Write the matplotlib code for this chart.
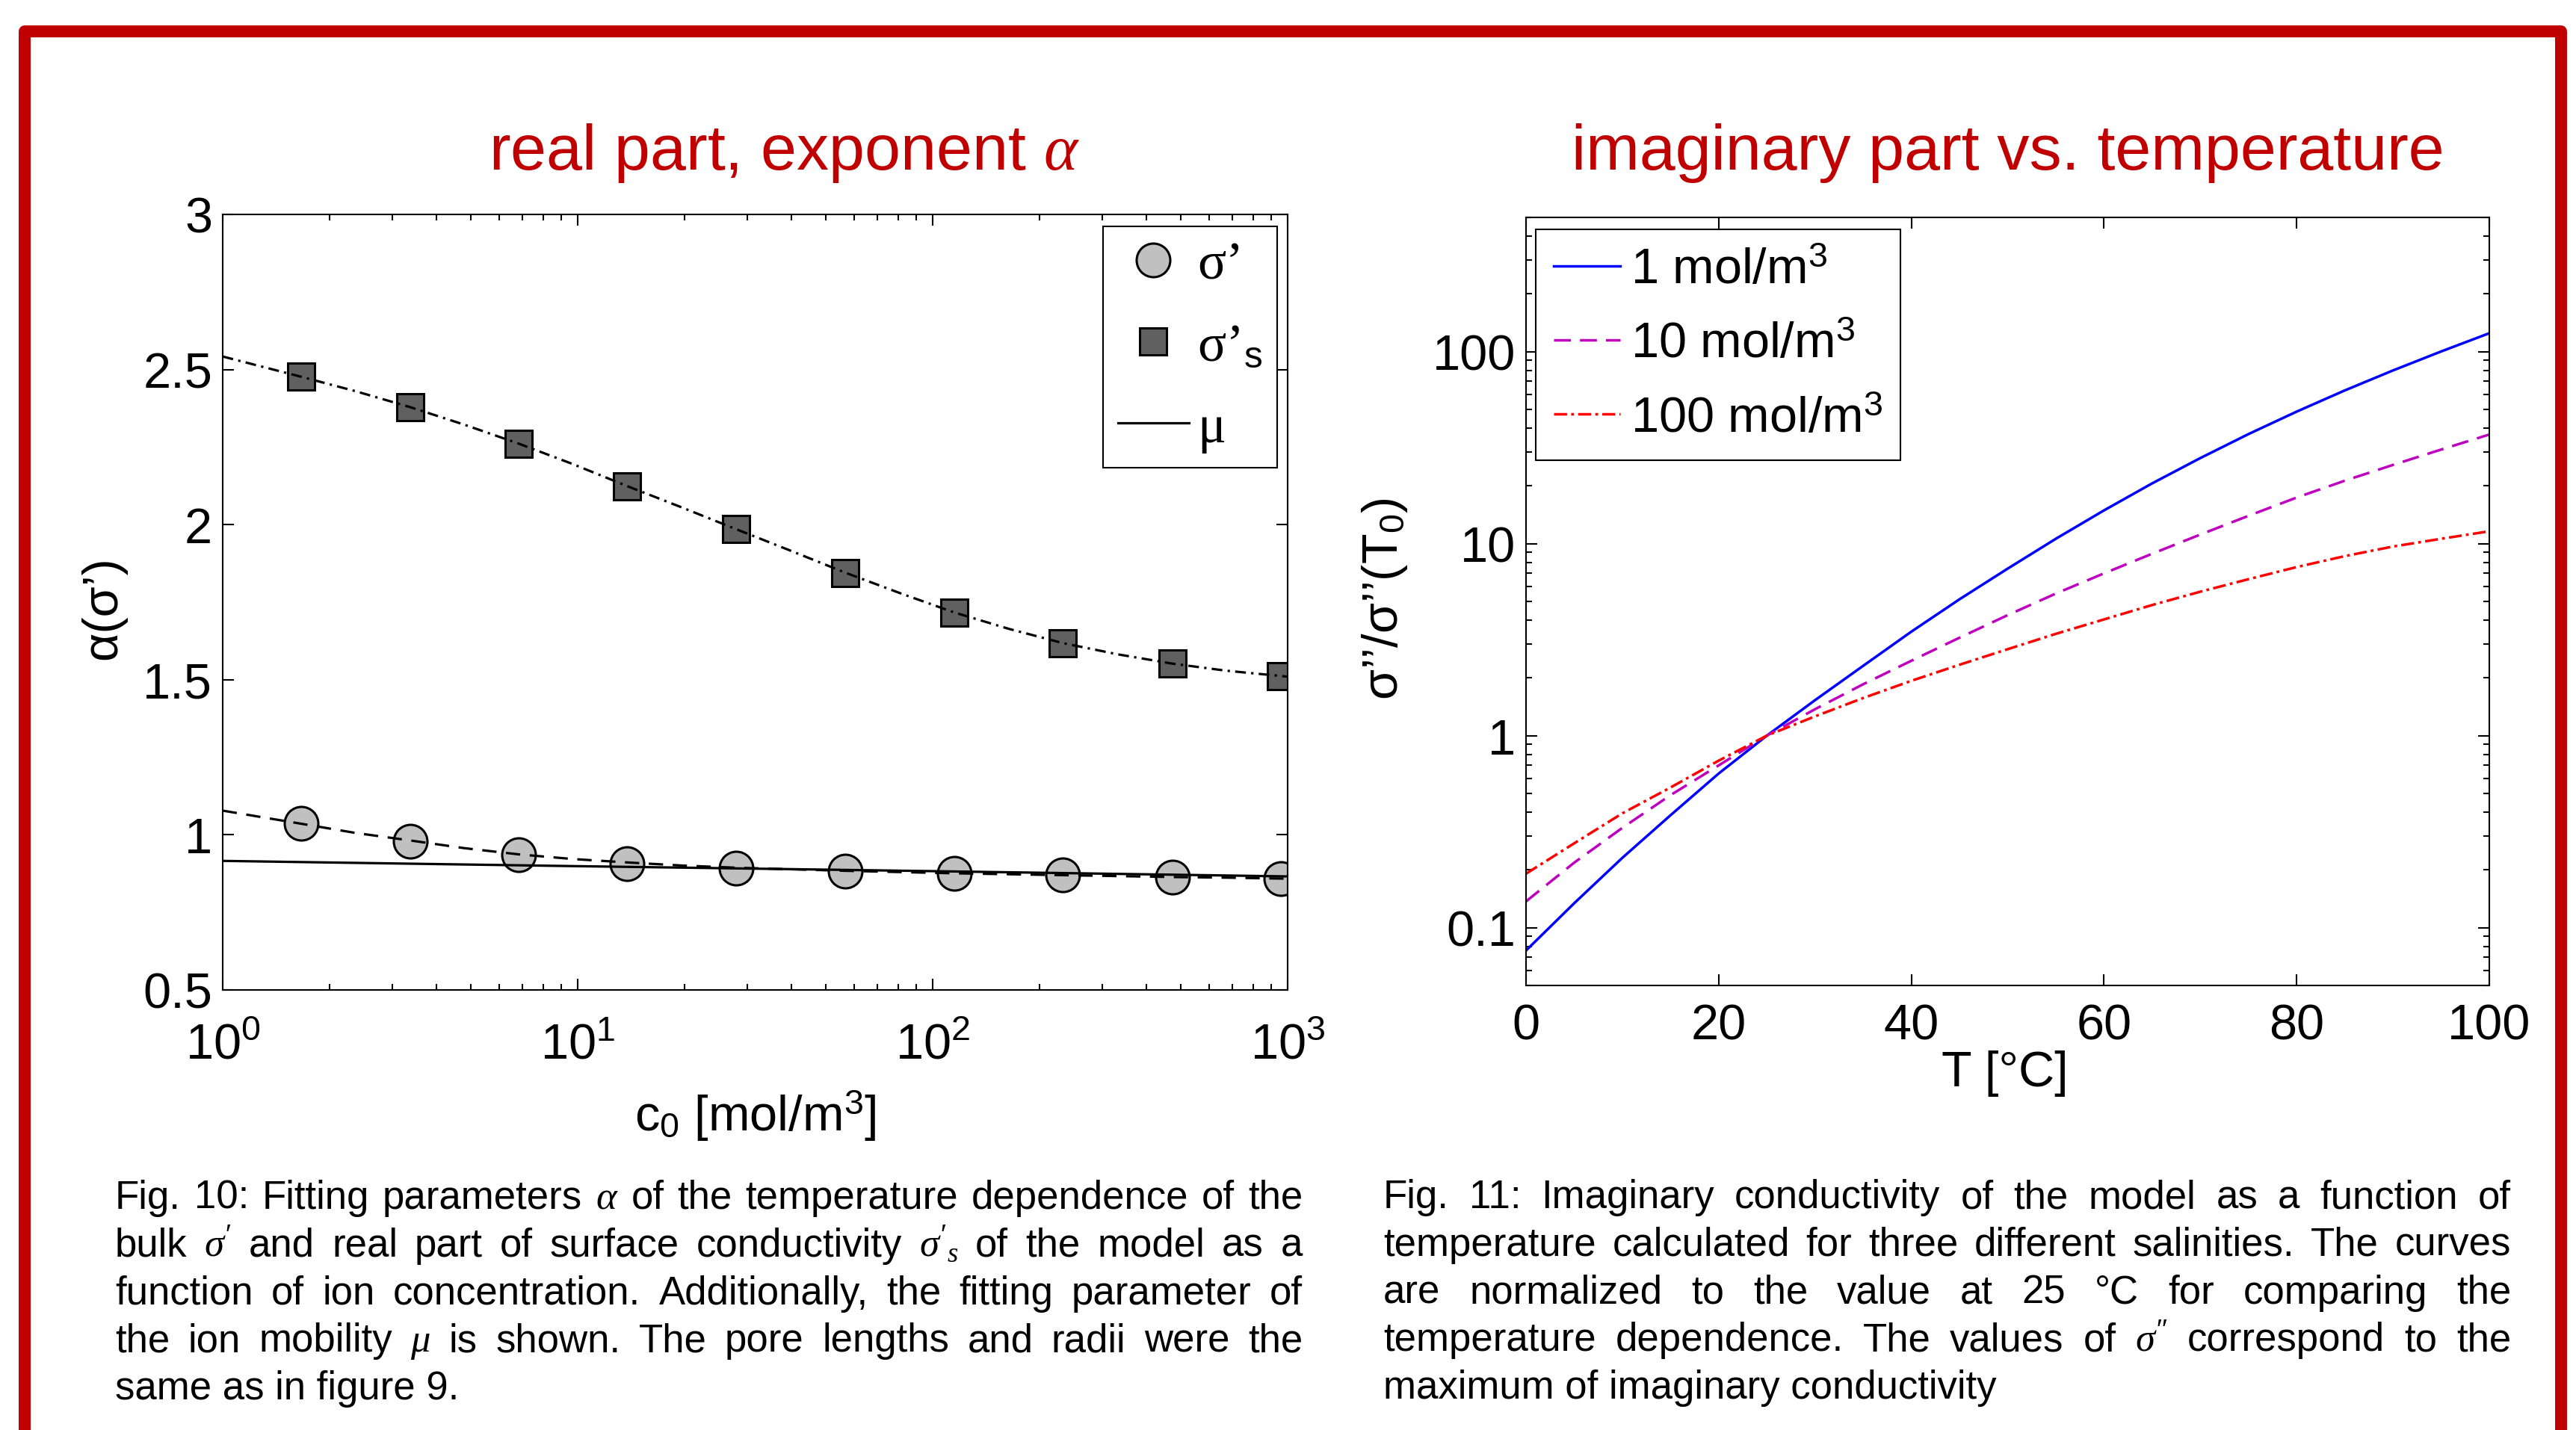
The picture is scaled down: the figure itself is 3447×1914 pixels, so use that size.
import numpy as np
import matplotlib
matplotlib.use("Agg")
import matplotlib.pyplot as plt
from matplotlib.lines import Line2D
from matplotlib.ticker import FixedLocator, LogLocator, MultipleLocator, FormatStrFormatter, NullFormatter

plt.rcParams["font.family"] = ["Liberation Sans", "DejaVu Sans"]
plt.rcParams["mathtext.fontset"] = "custom"
plt.rcParams["mathtext.rm"] = "Liberation Sans"
plt.rcParams["mathtext.it"] = "Liberation Serif:italic"
plt.rcParams["mathtext.bf"] = "Liberation Sans:bold"

W, H, DPI = 3447, 1915, 100
RED = "#C00000"

# --- Fig. 10: exponent alpha vs. ion concentration ---
c0 = [1.66, 3.37, 6.83, 13.8, 28.0, 56.8, 115, 233, 473, 958]
alpha_bulk = [1.036, 0.980, 0.935, 0.907, 0.892, 0.882, 0.875, 0.870, 0.864, 0.860]
alpha_surf = [2.477, 2.379, 2.261, 2.124, 1.985, 1.845, 1.717, 1.618, 1.552, 1.512]

c_fit = [1.0, 1.66, 2.37, 3.37, 4.8, 6.83, 9.7, 13.8, 19.7, 28.0, 40, 56.8,
         81, 115, 164, 233, 332, 473, 673, 958, 1000]
surf_fit = [2.542, 2.477, 2.430, 2.379, 2.322, 2.261, 2.195, 2.124, 2.055, 1.985, 1.915,
            1.845, 1.779, 1.717, 1.664, 1.618, 1.582, 1.552, 1.529, 1.512, 1.510]
bulk_fit = [1.078, 1.036, 1.006, 0.982, 0.957, 0.937, 0.922, 0.911, 0.901, 0.894, 0.889,
            0.884, 0.880, 0.876, 0.873, 0.870, 0.867, 0.864, 0.862, 0.859, 0.859]
mu_c = [1, 10, 100, 1000]
mu_fit = [0.916, 0.899, 0.883, 0.866]

# --- Fig. 11: normalised imaginary conductivity vs. temperature ---
temp = [0, 5, 10, 15, 20, 25, 30, 35, 40, 45, 50, 55, 60, 65, 70, 75, 80, 85, 90, 95, 100]
sig_1 = [0.076, 0.134, 0.231, 0.385, 0.635, 1.0, 1.53, 2.31, 3.48, 5.13, 7.41, 10.6,
         14.9, 20.6, 27.9, 37.2, 48.7, 62.8, 79.8, 100.2, 124.7]
sig_10 = [0.137, 0.218, 0.331, 0.490, 0.700, 1.0, 1.373, 1.852, 2.455, 3.236, 4.242, 5.495,
          7.0, 8.86, 11.15, 13.96, 17.38, 21.27, 25.7, 30.9, 37.0]
sig_100 = [0.191, 0.275, 0.394, 0.537, 0.741, 1.0, 1.26, 1.57, 1.93, 2.34, 2.82, 3.39,
           4.03, 4.79, 5.62, 6.53, 7.55, 8.61, 9.66, 10.6, 11.6]

cap_left = [
    r"Fig. 10: Fitting parameters $\alpha$ of the temperature dependence of the",
    r"bulk $\sigma'$ and real part of surface conductivity $\sigma'_s$ of the model as a",
    r"function of ion concentration. Additionally, the fitting parameter of",
    r"the ion mobility $\mu$ is shown. The pore lengths and radii were the",
    r"same as in figure 9.",
]
cap_right = [
    r"Fig. 11: Imaginary conductivity of the model as a function of",
    r"temperature calculated for three different salinities. The curves",
    r"are normalized to the value at 25 °C for comparing the",
    r"temperature dependence. The values of $\sigma''$ correspond to the",
    r"maximum of imaginary conductivity",
]


def px_axes(fig, x0, y0, x1, y1):
    return fig.add_axes([x0 / W, 1 - y1 / H, (x1 - x0) / W, (y1 - y0) / H])


def style_axes(ax, xpad):
    ax.tick_params(which="both", direction="in", top=True, right=True,
                   width=1.5, labelsize=48)
    ax.tick_params(which="major", length=11)
    ax.tick_params(which="minor", length=6)
    ax.tick_params(axis="y", pad=10)
    ax.tick_params(axis="x", pad=xpad)
    for s in ax.spines.values():
        s.set_linewidth(1.5)


def justified(fig, lines, x0, x1, y0, dy, size):
    r = fig.canvas.get_renderer()
    for i, line in enumerate(lines):
        y = 1 - (y0 + i * dy) / H
        if i == len(lines) - 1:
            fig.text(x0 / W, y, line, fontsize=size, va="baseline")
            continue
        words = line.split(" ")
        texts = [fig.text(0, y, w, fontsize=size, va="baseline") for w in words]
        widths = [t.get_window_extent(r).width for t in texts]
        gap = (x1 - x0 - sum(widths)) / (len(words) - 1)
        x = x0
        for t, w in zip(texts, widths):
            t.set_x(x / W)
            x += w + gap


fig = plt.figure(figsize=(W / DPI, H / DPI), dpi=DPI)

# red poster frame
fig.add_artist(Line2D([33 / W, 33 / W, 3427 / W, 3427 / W],
                      [-0.1, 1 - 42.5 / H, 1 - 42.5 / H, -0.1],
                      transform=fig.transFigure, color=RED, lw=11.5,
                      solid_joinstyle="round"))

fig.text(1049 / W, 1 - 227 / H, r"real part, exponent $\alpha$", fontsize=62,
         color=RED, ha="center", va="baseline")
fig.text(2687 / W, 1 - 227 / H, "imaginary part vs. temperature", fontsize=62,
         color=RED, ha="center", va="baseline")

# left panel
ax1 = px_axes(fig, 298, 288, 1723, 1326)
ax1.plot(c0, alpha_bulk, ls="none", marker="o", ms=32.4, mew=2.2, mfc="#C0C0C0",
         mec="black", label="σ’", zorder=2)
ax1.plot(c0, alpha_surf, ls="none", marker="s", ms=26.6, mew=2.2, mfc="#606060",
         mec="black", label="σ’$_\\mathrm{s}$", zorder=2)
ax1.plot(c_fit, surf_fit, color="black", lw=2.3, dashes=(4.5, 2.2, 1, 2.2), zorder=3)
ax1.plot(c_fit, bulk_fit, color="black", lw=2.3, dashes=(6, 4), zorder=3)
ax1.plot(mu_c, mu_fit, color="black", lw=2.3, label="μ", zorder=3)
ax1.set_xscale("log")
ax1.set_xlim(1, 1000)
ax1.set_ylim(0.5, 3)
ax1.yaxis.set_major_locator(MultipleLocator(0.5))
ax1.yaxis.set_major_formatter(FormatStrFormatter("%g"))
ax1.xaxis.set_minor_locator(LogLocator(base=10, subs=np.arange(2, 10), numticks=20))
ax1.xaxis.set_minor_formatter(NullFormatter())
style_axes(ax1, 31)
ax1.set_xlabel("c$_0$ [mol/m$^3$]", fontsize=48)
ax1.xaxis.set_label_coords(0.5, -0.181)
ax1.xaxis.label.set_va("baseline")
ax1.set_ylabel("α(σ’)", fontsize=48)
ax1.yaxis.set_label_coords(-0.112, 0.494)
ax1.yaxis.label.set_va("center")

leg1 = ax1.legend(loc="upper right", bbox_to_anchor=(1709 / W, 1 - 304 / H),
                  bbox_transform=fig.transFigure, borderaxespad=0, fancybox=False,
                  edgecolor="black", framealpha=1,
                  prop={"family": ["Liberation Serif", "DejaVu Serif"], "size": 51},
                  handlelength=1.35, handletextpad=0.15, labelspacing=0.62, borderpad=0.28)
leg1.get_frame().set_linewidth(1.5)

# right panel
ax2 = px_axes(fig, 2042, 292, 3331, 1320)
ax2.plot(temp, sig_1, color="#0000FF", lw=2.5, label="1 mol/m$^3$")
ax2.plot(temp, sig_10, color="#BF00BF", lw=2.5, dashes=(6.5, 3.5), label="10 mol/m$^3$")
ax2.plot(temp, sig_100, color="#FF0000", lw=2.5, dashes=(5, 1.6, 1.1, 1.6),
         label="100 mol/m$^3$")
ax2.set_yscale("log")
ax2.set_xlim(0, 100)
ax2.set_ylim(0.05, 500)
ax2.xaxis.set_major_locator(MultipleLocator(20))
ax2.yaxis.set_major_locator(FixedLocator([0.1, 1, 10, 100]))
ax2.yaxis.set_major_formatter(FormatStrFormatter("%g"))
ax2.yaxis.set_minor_locator(LogLocator(base=10, subs=np.arange(2, 10), numticks=20))
ax2.yaxis.set_minor_formatter(NullFormatter())
style_axes(ax2, 17)
ax2.set_xlabel("T [°C]", fontsize=48)
ax2.xaxis.set_label_coords(0.497, -0.130)
ax2.xaxis.label.set_va("baseline")
ax2.set_ylabel("σ’’/σ’’(T$_0$)", fontsize=48)
ax2.yaxis.set_label_coords(-0.147, 0.504)
ax2.yaxis.label.set_va("center")

leg2 = ax2.legend(loc="upper left", bbox_to_anchor=(2055 / W, 1 - 308 / H),
                  bbox_transform=fig.transFigure, borderaxespad=0, fancybox=False,
                  edgecolor="black", framealpha=1, prop={"size": 48},
                  handlelength=1.34, handletextpad=0.2, labelspacing=0.56, borderpad=0.36)
leg2.get_frame().set_linewidth(1.5)

# captions
justified(fig, cap_left, 154, 1743, 1618, 63.8, 38)
justified(fig, cap_right, 1851, 3360, 1617, 63.8, 38)

fig.savefig("out.png", dpi=DPI)
